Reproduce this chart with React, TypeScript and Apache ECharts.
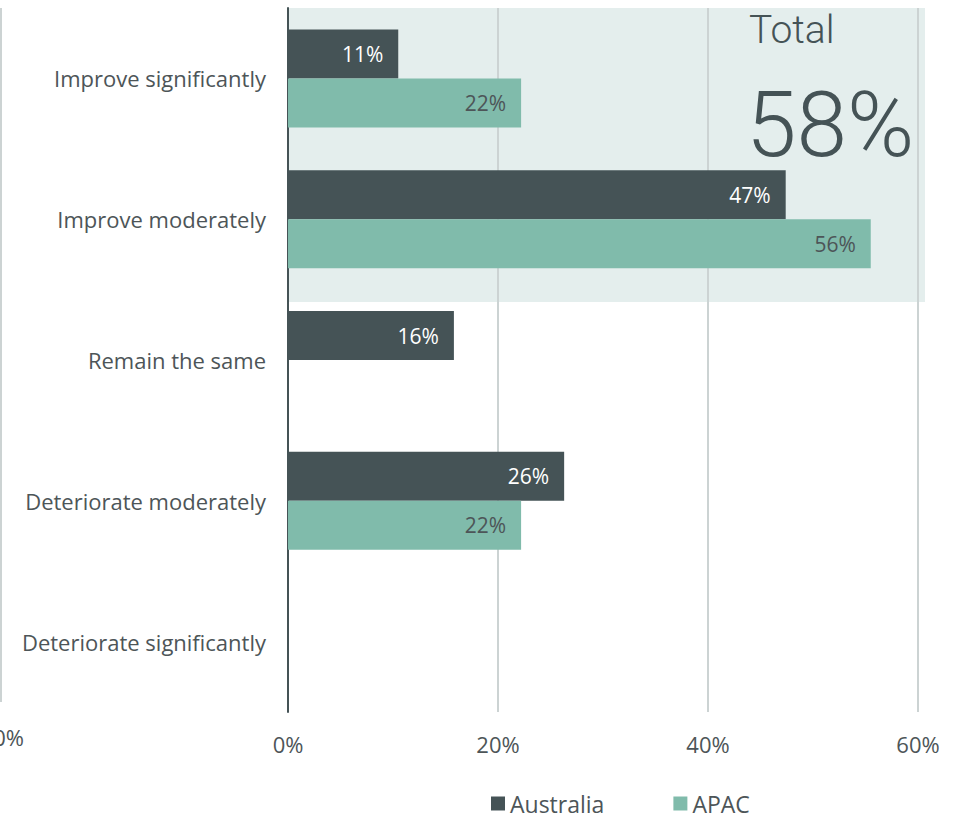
import React, { useEffect, useRef } from "react";
import * as echarts from "echarts";

const categories = [
  "Improve significantly",
  "Improve moderately",
  "Remain the same",
  "Deteriorate moderately",
  "Deteriorate significantly",
];
const australia: (number | null)[] = [10.5, 47.4, 15.8, 26.3, null];
const apac: (number | null)[] = [22.2, 55.5, null, 22.2, null];
const xTicks = [0, 20, 40, 60];
const totalLabel = "Total";
const totalValue = "58%";

const DARK = "#455356";
const TEAL = "#80bbab";
const TEXT = "#4d5558";
const FONT = "'Open Sans', 'Noto Sans', sans-serif";
const BIG_FONT = "Roboto, 'Noto Sans', sans-serif";

export default function App() {
  const ref = useRef<HTMLDivElement>(null);
  useEffect(() => {
    if (!ref.current) return;
    const chart = echarts.init(ref.current, undefined, { renderer: "svg" });
    chart.setOption({
      animation: false,
      textStyle: { fontFamily: FONT },
      grid: { left: 288, top: 8, width: 630, height: 704, containLabel: false },
      legend: {
        left: 491,
        top: 792,
        padding: 0,
        icon: "rect",
        itemWidth: 14,
        itemHeight: 14,
        itemGap: 69,
        textStyle: { fontSize: 23, color: TEXT, fontFamily: FONT },
        data: ["Australia", "APAC"],
      },
      graphic: [
        {
          type: "rect",
          z: -10,
          silent: true,
          shape: { x: 288, y: 8, width: 637, height: 294 },
          style: { fill: "#e4eeed" },
        },
        {
          type: "rect",
          silent: true,
          shape: { x: 0, y: 8, width: 2, height: 694 },
          style: { fill: "#ccd3d3" },
        },
        {
          type: "text",
          x: 24,
          y: 737,
          style: {
            text: "0%",
            fontSize: 22,
            fill: TEXT,
            fontFamily: FONT,
            align: "right",
            verticalAlign: "middle",
          },
        },
        {
          type: "text",
          x: 749,
          y: 30,
          z: 10,
          style: {
            text: totalLabel,
            fontSize: 39,
            fontWeight: 300,
            fill: DARK,
            fontFamily: BIG_FONT,
            align: "left",
            verticalAlign: "middle",
          },
        },
        {
          type: "text",
          x: 746,
          y: 125,
          z: 10,
          style: {
            text: totalValue,
            fontSize: 91,
            fontWeight: 300,
            fill: DARK,
            fontFamily: BIG_FONT,
            align: "left",
            verticalAlign: "middle",
          },
        },
      ],
      xAxis: {
        type: "value",
        min: xTicks[0],
        max: xTicks[xTicks.length - 1],
        interval: 20,
        axisLine: { show: false },
        axisTick: { show: false },
        axisLabel: {
          formatter: (v: number) => v + "%",
          fontSize: 22,
          color: TEXT,
          margin: 21,
          fontFamily: FONT,
        },
        splitLine: { show: true, lineStyle: { color: "#ccd3d3", width: 2 } },
      },
      yAxis: {
        type: "category",
        inverse: true,
        data: categories,
        axisLine: { show: true, lineStyle: { color: DARK, width: 2 } },
        axisTick: { show: false },
        axisLabel: { fontSize: 22, color: TEXT, margin: 22, fontFamily: FONT },
      },
      series: [
        {
          name: "Australia",
          type: "bar",
          data: australia,
          barWidth: 49,
          barGap: "0%",
          itemStyle: { color: DARK },
          label: {
            show: true,
            position: "insideRight",
            distance: 15,
            color: "#ffffff",
            fontSize: 21,
            fontFamily: FONT,
            formatter: (p: any) => Math.round(p.value) + "%",
          },
        },
        {
          name: "APAC",
          type: "bar",
          data: apac,
          barWidth: 49,
          barGap: "0%",
          itemStyle: { color: TEAL },
          label: {
            show: true,
            position: "insideRight",
            distance: 15,
            color: TEXT,
            fontSize: 21,
            fontFamily: FONT,
            formatter: (p: any) => Math.round(p.value) + "%",
          },
        },
      ],
    });
    return () => chart.dispose();
  }, []);
  return (
    <div
      ref={ref}
      style={{ position: "absolute", left: 0, top: 0, width: 963, height: 817 }}
    />
  );
}
